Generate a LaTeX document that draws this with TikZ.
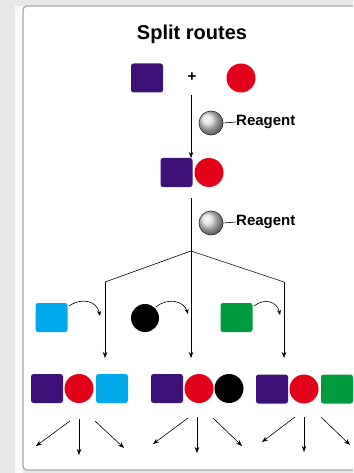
\documentclass[tikz,border=0pt]{standalone}
\usepackage{fontspec}
\setmainfont{Liberation Sans}
\usetikzlibrary{arrows.meta}
\definecolor{cpurple}{HTML}{3D1278}
\definecolor{cred}{HTML}{E2001A}
\definecolor{ccyan}{HTML}{00A9EC}
\definecolor{cgreen}{HTML}{009B3E}
\definecolor{bgray}{HTML}{E8E8E8}
\begin{document}
\begin{tikzpicture}[x=1pt,y=-1pt,
  sq/.style={rectangle,rounded corners=2.5pt,minimum width=32pt,minimum height=29pt,inner sep=0pt},
  ci/.style={circle,minimum size=29pt,inner sep=0pt},
  ballnode/.style={circle,minimum size=24pt,inner sep=0pt,shading=ball,ball color=white!75!gray,draw=black!85,line width=0.6pt},
  lbl/.style={font=\bfseries\fontsize{15}{18}\selectfont,inner sep=0pt,anchor=west},
  arr/.style={-{Stealth[length=6pt,width=4.5pt]},line width=0.6pt},
  ln/.style={line width=0.6pt}]
\useasboundingbox (0,0) rectangle (353,473);
\clip (0,0) rectangle (353,473);
% background and panel
\fill[bgray] (0,0) rectangle (353,473);
\fill[white!96!gray] (15,6) rectangle (23,473);
\draw[gray!70,line width=1.2pt,fill=white,rounded corners=4pt] (23,6) rectangle (370,470);
% title
\node[font=\bfseries\fontsize{20}{24}\selectfont] (title) at (192,34) {Split routes};
% row 1
\node[sq,fill=cpurple] (p1) at (147,78) {};
\node[font=\bfseries\fontsize{15}{18}\selectfont] (plus) at (192,77) {+};
\node[ci,fill=cred] (r1) at (241,78) {};
% row 2
\node[sq,fill=cpurple] (p2) at (176.5,172.5) {};
\node[ci,fill=cred] (r2) at (209,172.5) {};
% reagents
\node[ballnode] (b1) at (211,123) {};
\node[lbl] (t1) at (236,122) {Reagent};
\draw[ln] (b1.east) -- (t1.west);
\node[ballnode] (b2) at (211,223) {};
\node[lbl] (t2) at (236,222) {Reagent};
\draw[ln] (b2.east) -- (t2.west);
% main arrows
\coordinate (a1s) at (191,95);
\coordinate (a1e) at (191,158);
\draw[arr] (a1s) -- (a1e);
\coordinate (a2s) at (191,198);
\coordinate (br) at (191,251);
\coordinate (bl) at (105,282);
\coordinate (brr) at (284,282);
\coordinate (el) at (105,358);
\coordinate (em) at (191,358);
\coordinate (er) at (284,358);
\draw[ln] (a2s) -- (br);
\draw[ln] (bl) -- (br) -- (brr);
\draw[arr] (bl) -- (el);
\draw[arr] (br) -- (em);
\draw[arr] (brr) -- (er);
% row 3 building blocks
\node[sq,fill=ccyan] (c1) at (51.5,317.5) {};
\node[ci,fill=black,minimum size=28pt] (k1) at (145,318) {};
\node[sq,fill=cgreen] (g1) at (236.5,317.5) {};
\coordinate (cs1) at (69,306); \coordinate (ce1) at (100,316);
\coordinate (cs2) at (156,307); \coordinate (ce2) at (188,314);
\coordinate (cs3) at (254,306); \coordinate (ce3) at (280,315);
\draw[arr,-{Stealth[length=5pt,width=4pt]}] (cs1) .. controls (82,297) and (97,301) .. (ce1);
\draw[arr,-{Stealth[length=5pt,width=4pt]}] (cs2) .. controls (168,297) and (184,301) .. (ce2);
\draw[arr,-{Stealth[length=5pt,width=4pt]}] (cs3) .. controls (264,298) and (277,301) .. (ce3);
% bottom row
\node[sq,fill=cpurple] (q1) at (47,388.5) {};
\node[ci,fill=cred] (s1) at (79,388.5) {};
\node[sq,fill=ccyan] (u1) at (112,388.5) {};
\node[sq,fill=cpurple] (q2) at (167,388.5) {};
\node[ci,fill=cred] (s2) at (199,388.5) {};
\node[ci,fill=black] (u2) at (229,388.5) {};
\node[sq,fill=cpurple] (q3) at (272,389) {};
\node[ci,fill=cred] (s3) at (304,389) {};
\node[sq,fill=cgreen] (u3) at (337,389) {};
% product arrows
\coordinate (d1a) at (70,421); \coordinate (f1a) at (36,446);
\coordinate (d1b) at (79,419); \coordinate (f1b) at (79,455);
\coordinate (d1c) at (95,421); \coordinate (f1c) at (124,448);
\coordinate (d2a) at (188,418); \coordinate (f2a) at (153,444);
\coordinate (d2b) at (197,417); \coordinate (f2b) at (197,453);
\coordinate (d2c) at (213,418); \coordinate (f2c) at (242,446);
\coordinate (d3a) at (295,417); \coordinate (f3a) at (262,442);
\coordinate (d3b) at (304,417); \coordinate (f3b) at (304,452);
\coordinate (d3c) at (321,417); \coordinate (f3c) at (350,445);
\foreach \s/\e in {d1a/f1a,d1b/f1b,d1c/f1c,d2a/f2a,d2b/f2b,d2c/f2c,d3a/f3a,d3b/f3b,d3c/f3c}
  \draw[arr] (\s) -- (\e);
\end{tikzpicture}
\end{document}
